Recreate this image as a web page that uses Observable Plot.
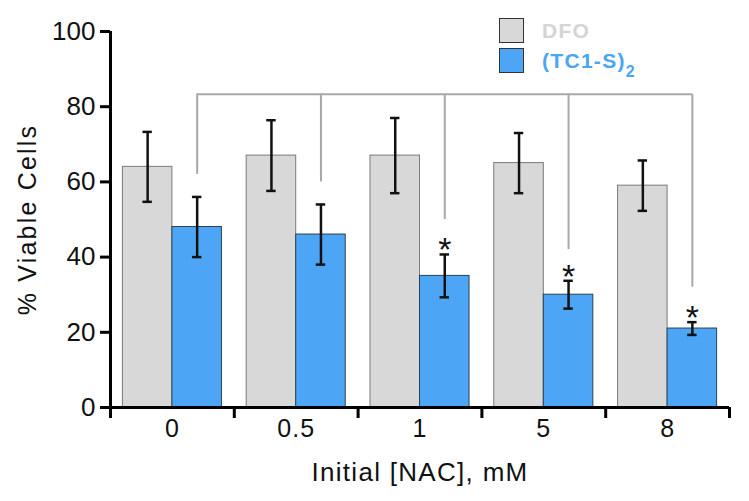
<!DOCTYPE html>
<html>
<head>
<meta charset="utf-8">
<script src="https://cdn.jsdelivr.net/npm/d3@7"></script>
<script src="https://cdn.jsdelivr.net/npm/@observablehq/plot@0.6"></script>
<style>
  body { margin: 0; background: #fff; }
  #wrap { position: relative; width: 749px; height: 501px; font-family: "Liberation Sans", Arial, sans-serif; }
  #legend { position: absolute; left: 499px; top: 18px; }
  .row { display: flex; align-items: center; height: 25px; margin-bottom: 5px; }
  .sw { width: 23px; height: 23px; border: 1px solid #333; box-sizing: content-box; margin-right: 18px; }
  .lab { font-weight: bold; font-size: 21px; letter-spacing: 1.3px; }
</style>
</head>
<body>
<div id="wrap">
  <div id="chart"></div>
  <div id="legend">
    <div class="row"><div class="sw" style="background:#d8d8d8"></div><span class="lab" style="color:#d4d4d4">DFO</span></div>
    <div class="row"><div class="sw" style="background:#4da6f5"></div><span class="lab" style="color:#4aa5f2">(TC1-S)<sub style="font-size:16px;position:relative;top:9px;vertical-align:baseline">2</sub></span></div>
  </div>
</div>
<script>
const categories = ["0", "0.5", "1", "5", "8"];
const dfoValues = [64, 67, 67, 65, 59];
const dfoErrors = [9.3, 9.4, 10, 8, 6.7];
const tcValues = [48, 46, 35, 30, 21];
const tcErrors = [8, 8, 5.7, 3.7, 1.7];
const significant = [false, false, true, true, true];
const bracketLevel = 83.3;
const bracketDrops = [62, 60, 50, 42, 32];
const yTicks = [0, 20, 40, 60, 80, 100];
const xTitle = "Initial [NAC], mM";
const yTitle = "% Viable Cells";

const idx = categories.map((c, i) => i);
const dfo = idx.map(i => ({i, v: dfoValues[i], e: dfoErrors[i]}));
const tc = idx.map(i => ({i, v: tcValues[i], e: tcErrors[i], sig: significant[i]}));
const capW = 0.038;

const chart = Plot.plot({
  width: 749,
  height: 501,
  marginLeft: 110,
  marginRight: 20,
  marginTop: 31,
  marginBottom: 94,
  style: {fontFamily: "'Liberation Sans', Arial, sans-serif", background: "#fff", color: "#111"},
  x: {domain: [0, 5], axis: null},
  y: {domain: [0, 100], axis: null},
  marks: [
    Plot.rectY(dfo, {x1: d => d.i + 0.1, x2: d => d.i + 0.5, y: "v", fill: "#d8d8d8", stroke: "#7a7a7a", strokeWidth: 1}),
    Plot.rectY(tc, {x1: d => d.i + 0.5, x2: d => d.i + 0.9, y: "v", fill: "#4da6f5", stroke: "#2d3f52", strokeWidth: 1}),
    Plot.ruleY([bracketLevel], {x1: 0.7, x2: 4.7, stroke: "#a8a8a8", strokeWidth: 2}),
    Plot.ruleX(idx, {x: i => i + 0.7, y1: i => bracketDrops[i], y2: bracketLevel, stroke: "#a8a8a8", strokeWidth: 2}),
    Plot.ruleX(dfo, {x: d => d.i + 0.3, y1: d => d.v - d.e, y2: d => d.v + d.e, stroke: "#111", strokeWidth: 2.5}),
    Plot.ruleY(dfo, {x1: d => d.i + 0.3 - capW, x2: d => d.i + 0.3 + capW, y: d => d.v - d.e, stroke: "#111", strokeWidth: 2.5}),
    Plot.ruleY(dfo, {x1: d => d.i + 0.3 - capW, x2: d => d.i + 0.3 + capW, y: d => d.v + d.e, stroke: "#111", strokeWidth: 2.5}),
    Plot.ruleX(tc, {x: d => d.i + 0.7, y1: d => d.v - d.e, y2: d => d.v + d.e, stroke: "#111", strokeWidth: 2.5}),
    Plot.ruleY(tc, {x1: d => d.i + 0.7 - capW, x2: d => d.i + 0.7 + capW, y: d => d.v - d.e, stroke: "#111", strokeWidth: 2.5}),
    Plot.ruleY(tc, {x1: d => d.i + 0.7 - capW, x2: d => d.i + 0.7 + capW, y: d => d.v + d.e, stroke: "#111", strokeWidth: 2.5}),
    Plot.text(tc.filter(d => d.sig), {x: d => d.i + 0.7, y: d => d.v + d.e, text: () => "*", dy: -4, fontSize: 34, fill: "#111"}),
    Plot.ruleX([0], {stroke: "#000", strokeWidth: 3}),
    Plot.ruleY([0], {stroke: "#000", strokeWidth: 3}),
    Plot.axisY({ticks: yTicks, tickSize: 10, tickPadding: 5, fontSize: 26, strokeWidth: 3, stroke: "#000", fill: "#111", label: null}),
    Plot.axisX({ticks: [0, 1, 2, 3, 4, 5], tickSize: 11, tickFormat: () => "", strokeWidth: 3, stroke: "#000", label: null}),
    Plot.text(idx, {x: i => i + 0.5, y: 0, text: i => categories[i], dy: 21, fontSize: 25, fill: "#111"}),
    Plot.text([xTitle], {frameAnchor: "bottom", text: d => d, dy: 73, fontSize: 26, fill: "#111"}),
    Plot.text([yTitle], {frameAnchor: "left", textAnchor: "middle", text: d => d, rotate: -90, dx: -83, fontSize: 25, fill: "#111"})
  ]
});
// widen letter spacing of titles to match the reference type
d3.select(chart).selectAll("text").each(function() {
  const t = this.textContent;
  if (t === xTitle) this.style.letterSpacing = "1.3px";
  else if (t === yTitle) this.style.letterSpacing = "2.2px";
  else if (categories.includes(t) && this.closest("g[aria-label='text']")) this.style.letterSpacing = "1px";
});
document.getElementById("chart").appendChild(chart);
</script>
</body>
</html>
